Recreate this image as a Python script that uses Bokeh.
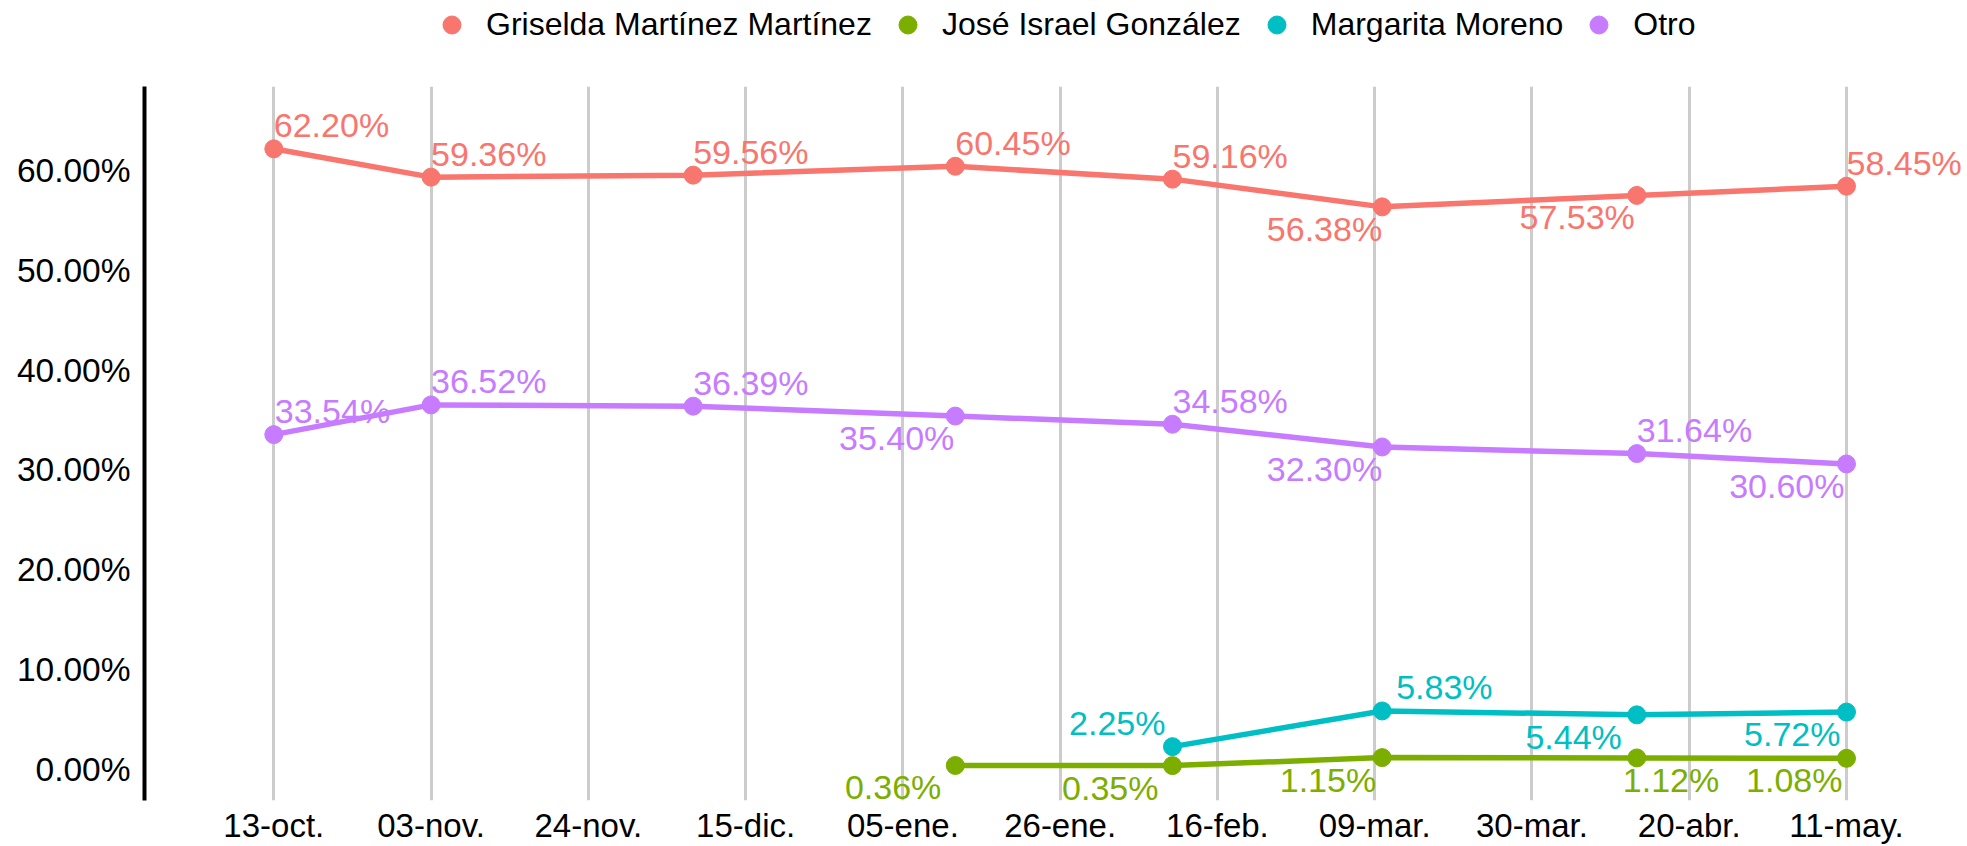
import pandas as pd
from bokeh.plotting import figure
from bokeh.layouts import column
from bokeh.models import (ColumnDataSource, Range1d, FixedTicker, CustomJSTickFormatter,
                          PrintfTickFormatter, Legend, LegendItem, LabelSet)
from bokeh.core.properties import value
from bokeh.embed import file_html
from bokeh.resources import INLINE

# ---------------- data ----------------
DATES = ["2020-10-13", "2020-11-03", "2020-12-08", "2021-01-12",
         "2021-02-10", "2021-03-10", "2021-04-13", "2021-05-11"]

SERIES = ["Griselda Martínez Martínez", "José Israel González", "Margarita Moreno", "Otro"]

GRISELDA = [62.20, 59.36, 59.56, 60.45, 59.16, 56.38, 57.53, 58.45]
JOSE_DATES = DATES[3:]
JOSE = [0.36, 0.35, 1.15, 1.12, 1.08]
MARGARITA_DATES = DATES[4:]
MARGARITA = [2.25, 5.83, 5.44, 5.72]
OTRO = [33.54, 36.52, 36.39, 35.40, 34.58, 32.30, 31.64, 30.60]

TICK_DATES = ["2020-10-13", "2020-11-03", "2020-11-24", "2020-12-15", "2021-01-05",
              "2021-01-26", "2021-02-16", "2021-03-09", "2021-03-30", "2021-04-20", "2021-05-11"]
TICK_LABELS = ["13-oct.", "03-nov.", "24-nov.", "15-dic.", "05-ene.", "26-ene.",
               "16-feb.", "09-mar.", "30-mar.", "20-abr.", "11-may."]
Y_TICKS = [0, 10, 20, 30, 40, 50, 60]

# ---------------- styles ----------------
COLORS = ["#F8766D", "#7CAE00", "#00BFC4", "#C77CFF"]
FONT = "Liberation Sans"
# label placement: (corner, horizontal nudge in px)
GRISELDA_LBL = [("tr", 0), ("tr", 0), ("tr", 0), ("tr", 0), ("tr", 0), ("bl", 0), ("bl", -2), ("tr", 0)]
JOSE_LBL = [("bl", -14), ("bl", -14), ("bl", -6), ("br", -14), ("bl", -4)]
MARGARITA_LBL = [("tl", -7), ("tr", 14), ("bl", -15), ("bl", -6)]
OTRO_LBL = [("tr", 1), ("tr", 0), ("tr", 0), ("bl", -1), ("tr", 0), ("bl", 0), ("tr", 0), ("bl", -2)]

W = 1967
LEG_H = 86           # height of the legend strip above the plot
H = 846 - LEG_H      # main plot height
LEFT, BOTTOM = 144, 44
PX_PER_DAY = 7.489
PX_PER_PCT = 10.0
ZERO_FROM_TOP = 770.5 - LEG_H  # pixel position of 0% below frame top

frame_w = W - LEFT
frame_h = H - BOTTOM
t0 = pd.Timestamp(TICK_DATES[0])
x_start = t0 - pd.Timedelta(days=(273.3 - LEFT) / PX_PER_DAY)
x_end = x_start + pd.Timedelta(days=frame_w / PX_PER_DAY)
y_end = ZERO_FROM_TOP / PX_PER_PCT
y_start = -(frame_h - ZERO_FROM_TOP) / PX_PER_PCT

p = figure(width=W, height=H, x_axis_type="datetime", output_backend="svg",
           toolbar_location=None, x_range=Range1d(x_start, x_end),
           y_range=Range1d(y_start, y_end),
           min_border_left=LEFT, min_border_top=0, min_border_bottom=BOTTOM,
           min_border_right=0)
p.outline_line_color = None
p.background_fill_color = "white"
p.border_fill_color = "white"

def ms(d):
    return (pd.Timestamp(d) - pd.Timestamp("1970-01-01")).total_seconds() * 1000.0

tick_ms = [ms(d) for d in TICK_DATES]
xticker = FixedTicker(ticks=tick_ms)
p.xaxis.ticker = xticker
p.xaxis.formatter = CustomJSTickFormatter(args=dict(tvals=tick_ms, tlabels=TICK_LABELS), code="""
    let best = 0, bd = Infinity;
    for (let i = 0; i < tvals.length; i++) {
        const d = Math.abs(tvals[i] - tick);
        if (d < bd) { bd = d; best = i; }
    }
    return tlabels[best];
""")
p.xgrid.ticker = xticker
p.xgrid.grid_line_color = "#cccccc"
p.xgrid.grid_line_width = 3
p.ygrid.grid_line_color = None

p.xaxis.axis_line_color = None
p.xaxis.major_tick_line_color = None
p.xaxis.minor_tick_line_color = None
p.xaxis.major_tick_out = 0
p.xaxis.major_label_standoff = 6
p.xaxis.major_label_text_font = FONT
p.xaxis.major_label_text_font_size = "33px"
p.xaxis.major_label_text_color = "black"

p.yaxis.ticker = FixedTicker(ticks=Y_TICKS)
p.yaxis.formatter = PrintfTickFormatter(format="%.2f%%")
p.yaxis.axis_line_color = "black"
p.yaxis.axis_line_width = 4
p.yaxis.major_tick_line_color = None
p.yaxis.minor_tick_line_color = None
p.yaxis.major_tick_out = 0
p.yaxis.major_label_standoff = 14
p.yaxis.major_label_text_font = FONT
p.yaxis.major_label_text_font_size = "33.5px"
p.yaxis.major_label_text_color = "black"

series_data = [
    (SERIES[0], DATES, GRISELDA, GRISELDA_LBL, COLORS[0]),
    (SERIES[1], JOSE_DATES, JOSE, JOSE_LBL, COLORS[1]),
    (SERIES[2], MARGARITA_DATES, MARGARITA, MARGARITA_LBL, COLORS[2]),
    (SERIES[3], DATES, OTRO, OTRO_LBL, COLORS[3]),
]

# legend strip (its own small figure, holding only the legend)
lf = figure(width=W, height=LEG_H, output_backend="svg", toolbar_location=None,
            x_axis_location=None, y_axis_location=None,
            x_range=Range1d(0, 1), y_range=Range1d(0, 1),
            min_border_left=0, min_border_right=0, min_border_top=0, min_border_bottom=0)
lf.outline_line_color = None
lf.xgrid.visible = False
lf.ygrid.visible = False

legend_items = []
lbl = {"left": dict(x=[], y=[], text=[], dx=[], dy=[], color=[]),
       "right": dict(x=[], y=[], text=[], dx=[], dy=[], color=[])}
for name, dates, vals, styles, col in series_data:
    src = ColumnDataSource(dict(x=pd.to_datetime(dates), y=vals))
    p.line("x", "y", source=src, line_color=col, line_width=5.5)
    p.scatter("x", "y", source=src, size=18, fill_color=col, line_color=col)
    # legend proxy: a single undrawn (NaN) point carrying the series style
    proxy = lf.scatter(x=[float("nan")], y=[float("nan")], size=18, fill_color=col, line_color=col)
    legend_items.append(LegendItem(label=name, renderers=[proxy]))
    for d, v, (corner, nx) in zip(dates, vals, styles):
        align = "left" if corner[1] == "r" else "right"
        g = lbl[align]
        g["x"].append(pd.Timestamp(d))
        g["y"].append(v)
        g["text"].append(f"{v:.2f}%")
        g["dx"].append(nx)
        g["dy"].append(11.5 if corner[0] == "t" else -34)
        g["color"].append(col)

for align, g in lbl.items():
    s = ColumnDataSource(g)
    ls = LabelSet(x="x", y="y", text="text", source=s, x_offset="dx", y_offset="dy",
                  text_color="color", text_align=align, text_baseline="alphabetic",
                  text_font=value(FONT), text_font_size=value("34px"))
    p.add_layout(ls)

legend = Legend(items=legend_items, orientation="horizontal",
                location=(429 - LEFT, LEG_H - (24.7 + 22.5)),
                glyph_width=45, glyph_height=45, label_standoff=12, spacing=13,
                padding=0, margin=0, border_line_color=None, background_fill_alpha=0,
                label_text_font=FONT, label_text_font_size="32px", label_text_color="black")
lf.add_layout(legend)

layout = column(lf, p, spacing=0)
open("out.html", "w").write(file_html(layout, INLINE))
